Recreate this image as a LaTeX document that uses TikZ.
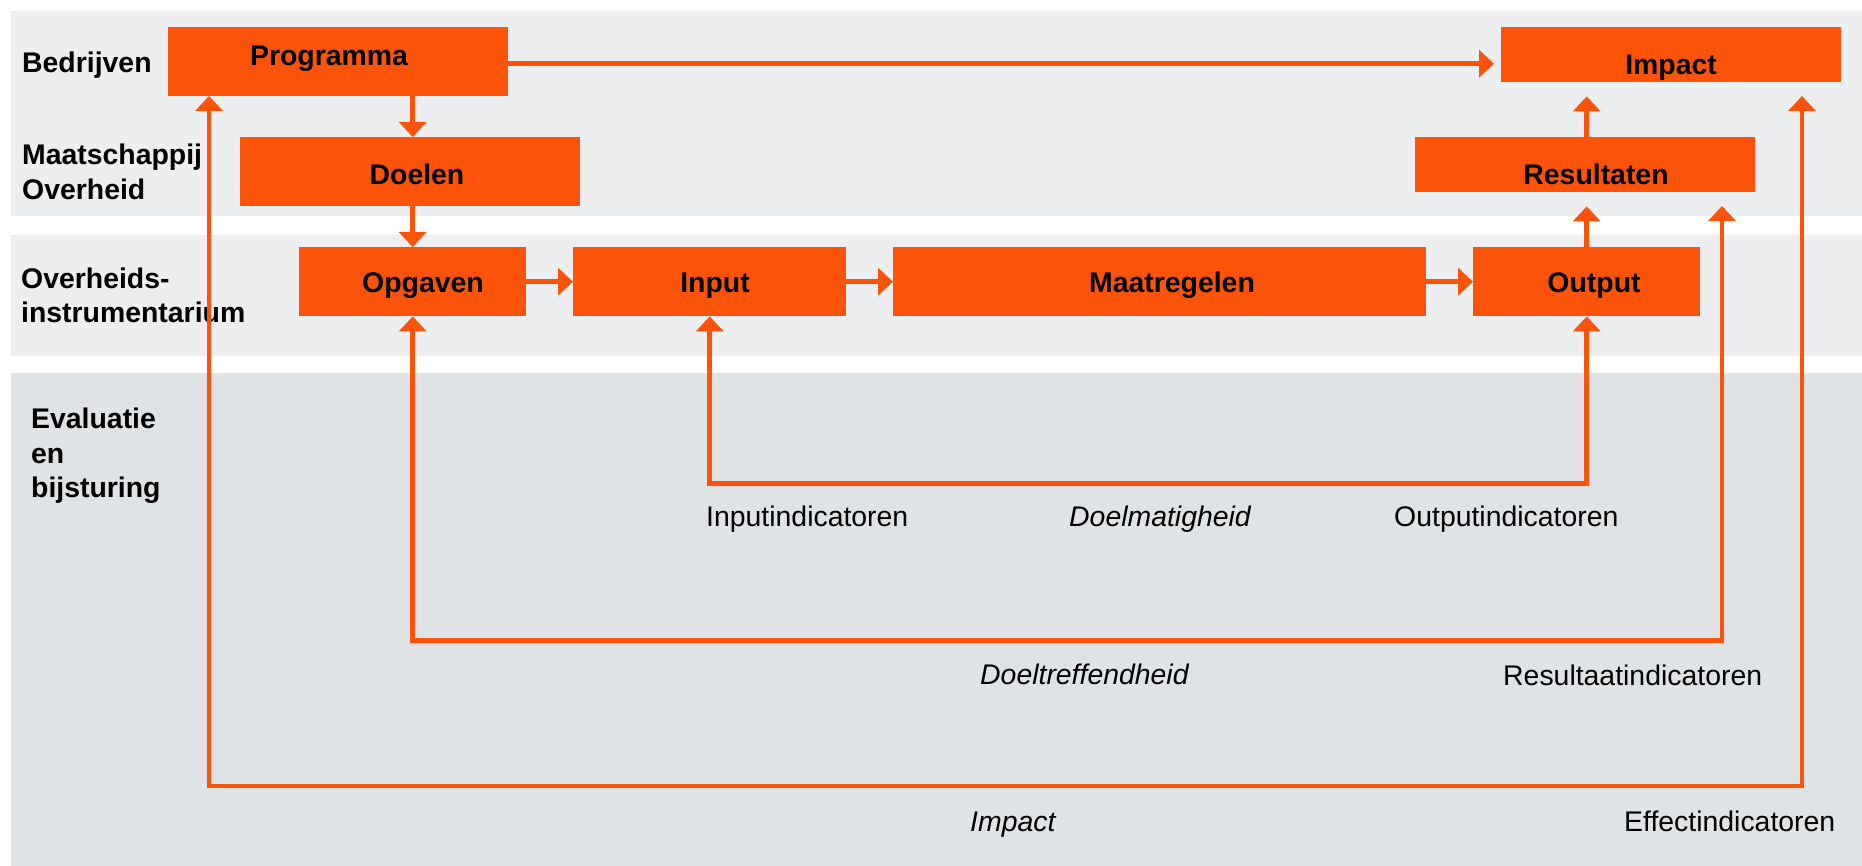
\documentclass[tikz,border=0pt]{standalone}
\usepackage{fontspec}
\setmainfont{Liberation Sans}
\usetikzlibrary{arrows.meta}
\definecolor{oranje}{RGB}{252,83,10}
\definecolor{bandlicht}{RGB}{237,238,240}
\definecolor{banddonker}{RGB}{224,227,230}
\tikzset{
  box/.style={fill=oranje, draw=none, inner sep=0pt, anchor=north west},
  boxtext/.style={anchor=base, inner sep=0pt, font=\fontsize{28.4pt}{34pt}\selectfont\bfseries},
  rowlabel/.style={anchor=base west, inner sep=0pt, font=\fontsize{28.4pt}{34pt}\selectfont\bfseries},
  indlabel/.style={anchor=base west, inner sep=0pt, font=\fontsize{28.4pt}{34pt}\selectfont},
  critlabel/.style={anchor=base west, inner sep=0pt, font=\fontsize{28.4pt}{34pt}\selectfont\itshape},
  conn/.style={draw=oranje, line width=4.6pt, line join=miter},
  arr/.style={conn, -{Triangle[length=15pt,width=27pt]}},
  arrboth/.style={conn, {Triangle[length=15pt,width=27pt]}-{Triangle[length=15pt,width=27pt]}}
}
\begin{document}
\begin{tikzpicture}[x=1pt,y=-1pt]
\useasboundingbox[fill=white] (0,0) rectangle (1862,866);
% bands
\fill[bandlicht] (11,11) rectangle (1862,216);
\fill[bandlicht] (11,235) rectangle (1862,356);
\fill[banddonker] (11,373) rectangle (1862,866);
% row labels
\node[rowlabel] (lbedr) at (22,73) {Bedrijven};
\node[rowlabel] (lmaat) at (22,165) {Maatschappij};
\node[rowlabel] (lover) at (22,200) {Overheid};
\node[rowlabel] (loverh) at (21,289) {Overheids-};
\node[rowlabel] (linstr) at (21,323) {instrumentarium};
\node[rowlabel] (leval) at (31,428) {Evaluatie};
\node[rowlabel] (len) at (31,463) {en};
\node[rowlabel] (lbijs) at (31,497) {bijsturing};
% boxes
\node[box, minimum width=340pt, minimum height=69pt] (prog) at (168,27) {};
\node[box, minimum width=340pt, minimum height=69pt] (doelen) at (240,137) {};
\node[box, minimum width=227pt, minimum height=69pt] (opgaven) at (299,247) {};
\node[box, minimum width=273pt, minimum height=69pt] (input) at (573,247) {};
\node[box, minimum width=533pt, minimum height=69pt] (maatr) at (893,247) {};
\node[box, minimum width=227pt, minimum height=69pt] (output) at (1473,247) {};
\node[box, minimum width=340pt, minimum height=55pt] (impact) at (1501,27) {};
\node[box, minimum width=340pt, minimum height=55pt] (result) at (1415,137) {};
% box texts
\node[boxtext] (tprog) at (329,66) {Programma};
\node[boxtext] (tdoelen) at (417,185) {Doelen};
\node[boxtext] (topgaven) at (423,293) {Opgaven};
\node[boxtext] (tinput) at (715,293) {Input};
\node[boxtext] (tmaatr) at (1172,293) {Maatregelen};
\node[boxtext] (toutput) at (1594,293) {Output};
\node[boxtext] (timpact) at (1671,75) {Impact};
\node[boxtext] (tresult) at (1596,185) {Resultaten};
% indicator and criterion labels
\node[indlabel] (linput) at (706,526) {Inputindicatoren};
\node[critlabel] (ldoelm) at (1069,526) {Doelmatigheid};
\node[indlabel] (loutput) at (1394,526) {Outputindicatoren};
\node[critlabel] (ldoeltr) at (980,684) {Doeltreffendheid};
\node[indlabel] (lresult) at (1503,685) {Resultaatindicatoren};
\node[critlabel] (limpact) at (970,831) {Impact};
\node[indlabel] (leffect) at (1624,831) {Effectindicatoren};
% free ends
\coordinate (rtip) at (1722,206);
\coordinate (etip) at (1802,96);
\coordinate (ptip) at (209,96);
% flow connectors
\draw[arr, shorten >=7pt] ([yshift=-2pt]prog.east) -- ([yshift=-2pt]prog.east -| impact.west);
\draw[arr] (prog.south -| opgaven.north) -- (doelen.north -| opgaven.north);
\draw[arr] (doelen.south -| opgaven.north) -- (opgaven.north);
\draw[arr] (opgaven.east) -- (input.west);
\draw[arr] (input.east) -- (maatr.west);
\draw[arr] (maatr.east) -- (output.west);
\draw[arr] (output.north) -- (output.north |- doelen.south);
\draw[arr] (output.north |- result.north) -- (output.north |- prog.south);
% evaluation loops
\draw[arrboth] (input.south) -- ++(0,167) -| (output.south);
\draw[arrboth] (opgaven.south) -- ++(0,324) -| (rtip);
\draw[arrboth] (ptip) -- ++(0,690) -| (etip);
\end{tikzpicture}
\end{document}
